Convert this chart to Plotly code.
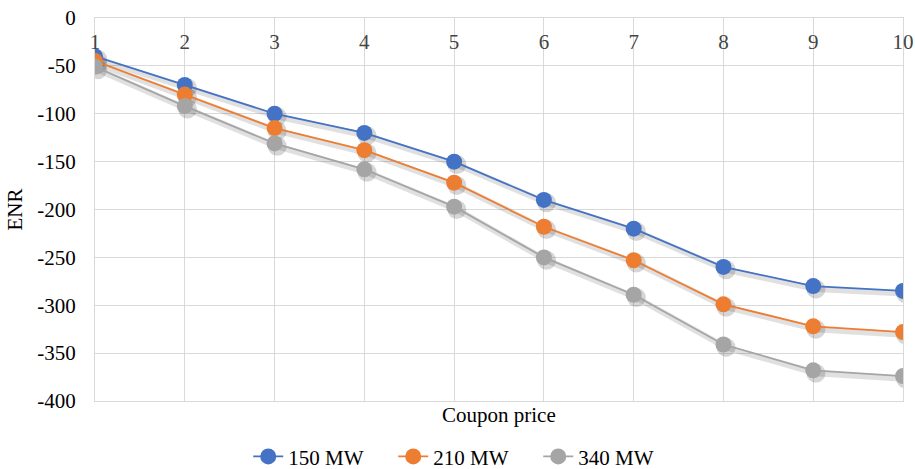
import plotly.graph_objects as go

# Coupon price levels and ENR for each capacity
coupon_price = [1, 2, 3, 4, 5, 6, 7, 8, 9, 10]
enr_150 = [-40, -70, -100, -120, -150, -190, -220, -260, -280, -285]
enr_210 = [-45, -80, -115, -138, -172, -218, -253, -299, -322, -328]
enr_340 = [-51, -92, -131, -158, -197, -250, -289, -341, -368, -374]

series_names = ["150 MW", "210 MW", "340 MW"]
series_colors = ["#4472C4", "#ED7D31", "#A5A5A5"]

y_tick_vals = [0, -50, -100, -150, -200, -250, -300, -350, -400]
y_tick_text = ["0", "-50", "-100", "-150", "-200", "-250", "-300", "-350", "-400"]

FONT = "Liberation Serif"
FS = 21

fig = go.Figure()

series = [enr_150, enr_210, enr_340]

# soft drop shadow under each series (same data, nudged down-right)
for vals in series:
    fig.add_trace(go.Scatter(
        x=[c + 0.03 for c in coupon_price],
        y=[v - 3 for v in vals],
        mode="lines+markers",
        line=dict(color="rgba(0,0,0,0.12)", width=6),
        marker=dict(size=19, color="rgba(0,0,0,0.16)"),
        hoverinfo="skip",
        showlegend=False,
    ))

for name, color, vals in zip(series_names, series_colors, series):
    fig.add_trace(go.Scatter(
        x=coupon_price,
        y=vals,
        name=name,
        mode="lines+markers",
        line=dict(color=color, width=1.8),
        marker=dict(size=16, color=color),
    ))

fig.update_layout(
    width=915,
    height=469,
    margin=dict(l=95, r=12, t=18, b=68, autoexpand=False),
    paper_bgcolor="white",
    plot_bgcolor="white",
    font=dict(family=FONT, size=FS, color="black"),
    legend=dict(
        orientation="h",
        x=0.509, xanchor="center",
        xref="container",
        yref="container",
        y=0.026, yanchor="middle",
        font=dict(family=FONT, size=FS),
        entrywidth=100,
        entrywidthmode="pixels",
    ),
    annotations=[dict(
        text="Coupon price",
        xref="paper", yref="paper",
        x=0.5, y=0.0,
        xanchor="center", yanchor="top",
        showarrow=False,
        font=dict(family=FONT, size=FS),
    )],
)

fig.update_xaxes(
    range=[1, 10],
    side="top",
    tickvals=coupon_price,
    ticklabelposition="inside",
    ticklabeloverflow="allow",
    ticks="inside",
    ticklen=18,
    tickcolor="rgba(0,0,0,0)",
    showgrid=True,
    gridcolor="#D9D9D9",
    gridwidth=1,
    showline=True,
    linecolor="#D9D9D9",
    linewidth=1,
    mirror=True,
    zeroline=False,
    tickfont=dict(family=FONT, size=FS),
)

fig.update_yaxes(
    range=[-400, 0],
    tickvals=y_tick_vals,
    ticktext=y_tick_text,
    ticks="outside",
    ticklen=14,
    tickcolor="rgba(0,0,0,0)",
    showgrid=True,
    gridcolor="#D9D9D9",
    gridwidth=1,
    showline=True,
    linecolor="#D9D9D9",
    linewidth=1,
    mirror=True,
    zeroline=False,
    title=dict(text="ENR", font=dict(family=FONT, size=FS), standoff=8),
    tickfont=dict(family=FONT, size=FS),
)

fig.write_html("out.html")
